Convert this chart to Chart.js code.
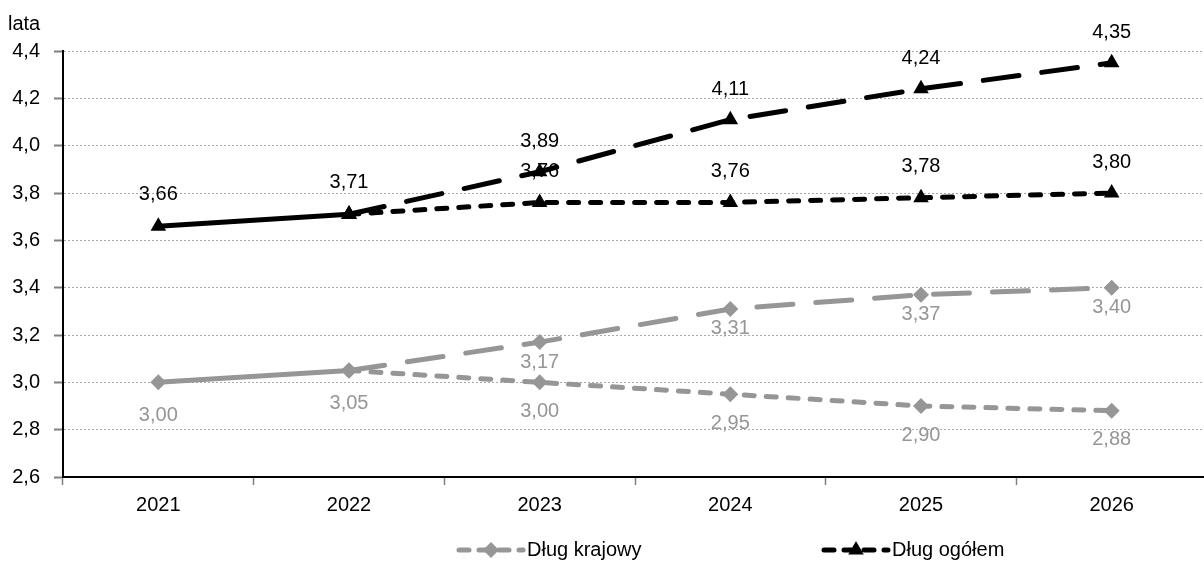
<!DOCTYPE html>
<html>
<head>
<meta charset="utf-8">
<script src="https://cdn.jsdelivr.net/npm/chart.js@4.4.1/dist/chart.umd.min.js"></script>
<style>
  html, body { margin: 0; padding: 0; background: #fff; overflow: hidden; }
  #box { width: 1216px; height: 563px; }
</style>
</head>
<body>
<div id="box"><canvas id="myChart" width="1216" height="563"></canvas></div>
<script>
const years = ['2021', '2022', '2023', '2024', '2025', '2026'];

// Dług ogółem: common part and two scenarios
const totalBase  = [3.66, 3.71, null, null, null, null];
const totalHigh  = [null, 3.71, 3.89, 4.11, 4.24, 4.35];
const totalLow   = [null, 3.71, 3.76, 3.76, 3.78, 3.80];

// Dług krajowy: common part and two scenarios
const domBase = [3.00, 3.05, null, null, null, null];
const domHigh = [null, 3.05, 3.17, 3.31, 3.37, 3.40];
const domLow  = [null, 3.05, 3.00, 2.95, 2.90, 2.88];

const FONT = '"Liberation Sans Narrow", "Arial Narrow", "Liberation Sans", Arial, sans-serif';
const FSIZE = 20;
const GRAY = '#969696';
const BLACK = '#000000';
const LONG = [36, 23];
const SHORT = [10, 12];

const fmt = (v, d) => v.toFixed(d).replace('.', ',');

function series(data, color, style, dash, labelDir, firstLabel) {
  return {
    data,
    borderColor: color,
    backgroundColor: color,
    borderWidth: 5,
    borderDash: dash,
    borderCapStyle: 'round',
    pointStyle: style,
    pointRadius: style === 'triangle' ? 9 : 8,
    pointBorderWidth: 0,
    pointBackgroundColor: color,
    tension: 0,
    spanGaps: false,
    labelDir,
    firstLabel
  };
}

// value labels
const valueLabels = {
  id: 'valueLabels',
  afterDatasetsDraw(chart) {
    const { ctx } = chart;
    ctx.save();
    ctx.font = FSIZE + 'px ' + FONT;
    ctx.textAlign = 'center';
    ctx.textBaseline = 'middle';
    chart.data.datasets.forEach((ds, i) => {
      const meta = chart.getDatasetMeta(i);
      ds.data.forEach((v, j) => {
        if (v === null || j < ds.firstLabel) return;
        const pt = meta.data[j];
        ctx.fillStyle = ds.borderColor;
        ctx.fillText(fmt(v, 2), pt.x, pt.y + ds.labelDir);
      });
    });
    ctx.restore();
  }
};

// "lata" unit label and bottom legend
const extras = {
  id: 'extras',
  afterDraw(chart) {
    const { ctx } = chart;
    ctx.save();
    ctx.font = FSIZE + 'px ' + FONT;
    ctx.fillStyle = BLACK;
    ctx.textAlign = 'left';
    ctx.textBaseline = 'middle';
    ctx.fillText('lata', 8, 24);

    const items = [
      { text: 'Dług krajowy', ds: chart.data.datasets[2], x: 456 },
      { text: 'Dług ogółem', ds: chart.data.datasets[5], x: 821 }
    ];
    const y = 550;
    items.forEach(it => {
      ctx.lineWidth = 5;
      ctx.lineCap = 'round';
      ctx.strokeStyle = it.ds.borderColor;
      ctx.setLineDash([10, 10]);
      ctx.beginPath();
      ctx.moveTo(it.x + 3, y);
      ctx.lineTo(it.x + 67, y);
      ctx.stroke();
      ctx.setLineDash([]);
      ctx.fillStyle = it.ds.borderColor;
      Chart.helpers.drawPoint(ctx, { pointStyle: it.ds.pointStyle, radius: it.ds.pointRadius, borderWidth: 0, rotation: 0 }, it.x + 35, y);
      ctx.fillStyle = BLACK;
      ctx.fillText(it.text, it.x + 71, y);
    });
    ctx.restore();
  }
};

const data = {
  labels: years,
  datasets: [
    series(domBase, GRAY, 'rectRot', [], 33, 0),
    series(domHigh, GRAY, 'rectRot', LONG, 20, 2),
    series(domLow, GRAY, 'rectRot', SHORT, 29, 2),
    series(totalBase, BLACK, 'triangle', [], -32, 0),
    series(totalHigh, BLACK, 'triangle', LONG, -30, 2),
    series(totalLow, BLACK, 'triangle', SHORT, -31, 2)
  ]
};

const config = {
  type: 'line',
  data,
  options: {
    responsive: false,
    animation: false,
    layout: { padding: { top: 51, right: 1, bottom: 46, left: 0 } },
    scales: {
      x: {
        offset: true,
        grid: {
          offset: true,
          drawOnChartArea: false,
          tickLength: 8,
          tickColor: '#808080',
          tickWidth: 1.5
        },
        border: { color: BLACK, width: 2 },
        ticks: { color: BLACK, font: { family: FONT, size: FSIZE }, padding: 8 },
        afterFit(s) { s.height = 40; }
      },
      y: {
        min: 2.6,
        max: 4.4,
        grid: {
          color: '#a8a8a8',
          lineWidth: 1,
          tickLength: 9,
          tickColor: '#808080',
          tickWidth: 2,
          tickBorderDash: []
        },
        border: { color: BLACK, width: 2, dash: [2, 2] },
        ticks: {
          stepSize: 0.2,
          color: BLACK,
          font: { family: FONT, size: FSIZE },
          padding: 14,
          callback: v => fmt(v, 1)
        },
        afterFit(s) { s.width = 63; }
      }
    },
    plugins: {
      legend: { display: false },
      tooltip: { enabled: false }
    }
  },
  plugins: [valueLabels, extras]
};

new Chart(document.getElementById('myChart'), config);
</script>
</body>
</html>
